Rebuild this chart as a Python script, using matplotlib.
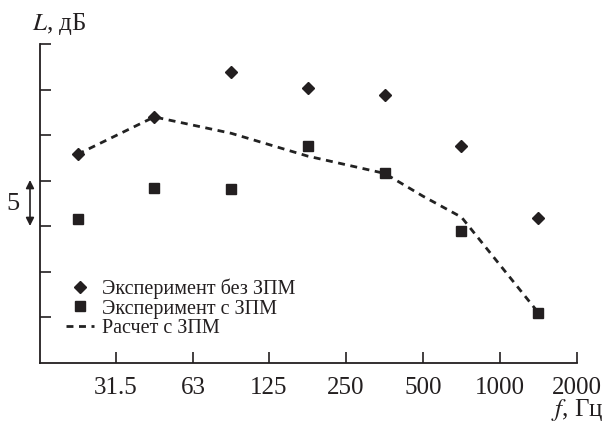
import matplotlib
matplotlib.use("Agg")
import matplotlib.pyplot as plt
from matplotlib.ticker import FixedLocator, NullLocator, NullFormatter

plt.rcParams['font.family'] = ['Liberation Serif', 'DejaVu Serif']
plt.rcParams['mathtext.fontset'] = 'stix'

# Data
freq = [22.3, 44.5, 89, 177, 354, 707, 1414]
no_zpm = [67.9, 72.0, 76.9, 75.2, 74.4, 68.8, 60.9]
with_zpm = [60.8, 64.2, 64.1, 68.8, 65.8, 59.5, 50.5]
calc_freq = [22.3, 44.5, 89, 177, 354, 500, 707, 1414]
calc_zpm = [67.9, 72.0, 70.2, 67.7, 65.8, 63.3, 61.0, 50.5]
xticks = [31.5, 63, 125, 250, 500, 1000, 2000]
xticklabels = ["31.5", "63", "125", "250", "500", "1000", "2000"]
yticks = [50, 55, 60, 65, 70, 75, 80]

fig = plt.figure(figsize=(6.04, 4.30), dpi=100)
ax = fig.add_axes([40/604, 1-363/430, (577-40)/604, (363-44)/430])

ax.plot(calc_freq, calc_zpm, color='#222222', lw=2.0, ls=(0, (2.5, 2)), label='Расчет с ЗПМ', zorder=2)
ax.plot(freq, no_zpm, ls='none', marker='D', ms=6.5, color='#231f20', label='Эксперимент без ЗПМ', zorder=3)
ax.plot(freq, with_zpm, ls='none', marker='s', ms=7.5, color='#231f20', label='Эксперимент с ЗПМ', zorder=3)

ax.set_xscale('log')
ax.set_xlim(15.9, 2000)
ax.set_ylim(45.0, 80.0)
ax.xaxis.set_major_locator(FixedLocator(xticks))
ax.set_xticklabels(xticklabels)
ax.xaxis.set_minor_locator(NullLocator())
ax.xaxis.set_minor_formatter(NullFormatter())
ax.yaxis.set_major_locator(FixedLocator(yticks))
ax.set_yticklabels([])

for s in ['top', 'right']:
    ax.spines[s].set_visible(False)
for s in ['left', 'bottom']:
    ax.spines[s].set_linewidth(1.3)
    ax.spines[s].set_color('#231f20')

ax.tick_params(axis='both', direction='in', length=8, width=1.2, color='#231f20')
ax.tick_params(axis='x', labelsize=18, pad=10, colors='#231f20')
ax.tick_params(axis='y', left=True, labelleft=False)

h, l = ax.get_legend_handles_labels()
order = [1, 2, 0]
leg = ax.legend([h[i] for i in order], [l[i] for i in order], loc='lower left',
                bbox_to_anchor=(0.033, 0.053), frameon=False, fontsize=14.5,
                handlelength=1.4, handletextpad=0.4, labelspacing=0.02,
                borderaxespad=0.0)
for t in leg.get_texts():
    t.set_color('#231f20')

fig.text(32/604, 1-24/430, '$L$, дБ', fontsize=18, ha='left', va='center', color='#231f20')
fig.text(603/604, 1-410/430, '$f$, Гц', fontsize=18, ha='right', va='center', color='#231f20')

# 5 dB scale marker
fig.text(13/604, 1-204/430, '5', fontsize=19, ha='center', va='center', color='#231f20')
ax.annotate('', xy=(30/604, 1-180/430), xytext=(30/604, 1-226/430), xycoords='figure fraction',
            textcoords='figure fraction',
            arrowprops=dict(arrowstyle='<|-|>', color='#231f20', lw=1.2, mutation_scale=12,
                            shrinkA=0, shrinkB=0), annotation_clip=False)

fig.savefig('out.png', dpi=100)
